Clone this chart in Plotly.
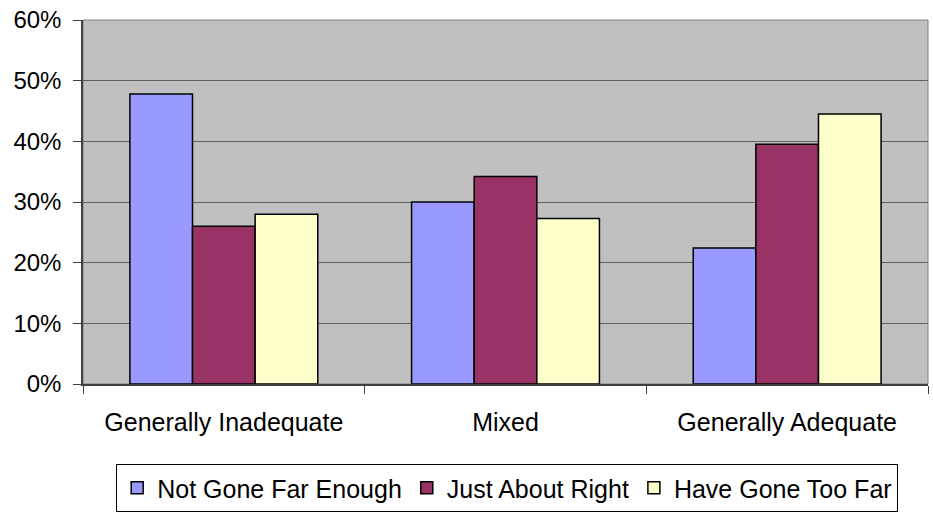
import plotly.graph_objects as go

categories = ["Generally Inadequate", "Mixed", "Generally Adequate"]
series_names = ["Not Gone Far Enough", "Just About Right", "Have Gone Too Far"]
not_gone_far_enough = [47.8, 30.0, 22.4]
just_about_right = [26.0, 34.2, 39.5]
have_gone_too_far = [28.0, 27.3, 44.5]
colors = ["#9999FF", "#993366", "#FFFFCC"]
y_ticks = [0, 10, 20, 30, 40, 50, 60]
y_tick_labels = ["0%", "10%", "20%", "30%", "40%", "50%", "60%"]

fig = go.Figure()
for name, vals, col in zip(series_names, [not_gone_far_enough, just_about_right, have_gone_too_far], colors):
    fig.add_trace(go.Bar(x=categories, y=vals, name=name,
                         marker=dict(color=col, line=dict(color="black", width=1.5))))

font = "Liberation Sans, Arial, sans-serif"
fig.update_layout(
    width=933, height=518,
    margin=dict(l=83, r=5, t=20, b=134),
    paper_bgcolor="white", plot_bgcolor="#C0C0C0",
    barmode="group", bargap=0.333, bargroupgap=0,
    font=dict(family=font, size=24, color="black"),
    showlegend=True,
    legend=dict(orientation="h", x=0.502, y=-0.286, xanchor="center", yanchor="middle",
                bordercolor="black", borderwidth=1, font=dict(size=25),
                itemwidth=30, tracegroupgap=0),
)
fig.update_xaxes(type="category", tickson="boundaries", ticks="outside", ticklen=8,
                 tickcolor="#404040", showline=True, linecolor="#404040", linewidth=1.5,
                 mirror=False, tickfont=dict(size=25), showgrid=False, automargin=False,
                 ticklabelstandoff=15)
fig.update_yaxes(range=[0, 60], tickvals=y_ticks, ticktext=y_tick_labels, ticks="outside",
                 ticklen=8, tickcolor="#404040", showline=True, linecolor="#404040", linewidth=1.5,
                 showgrid=True, gridcolor="#606060", gridwidth=1, zeroline=False,
                 tickfont=dict(size=24), automargin=False, ticklabelstandoff=7)
fig.add_shape(type="rect", xref="paper", yref="paper", x0=0, x1=1, y0=0, y1=1,
              line=dict(color="#808080", width=1), layer="below")
fig.write_html("out.html", config={"displayModeBar": False},
               post_script="document.body.style.margin='0';")
